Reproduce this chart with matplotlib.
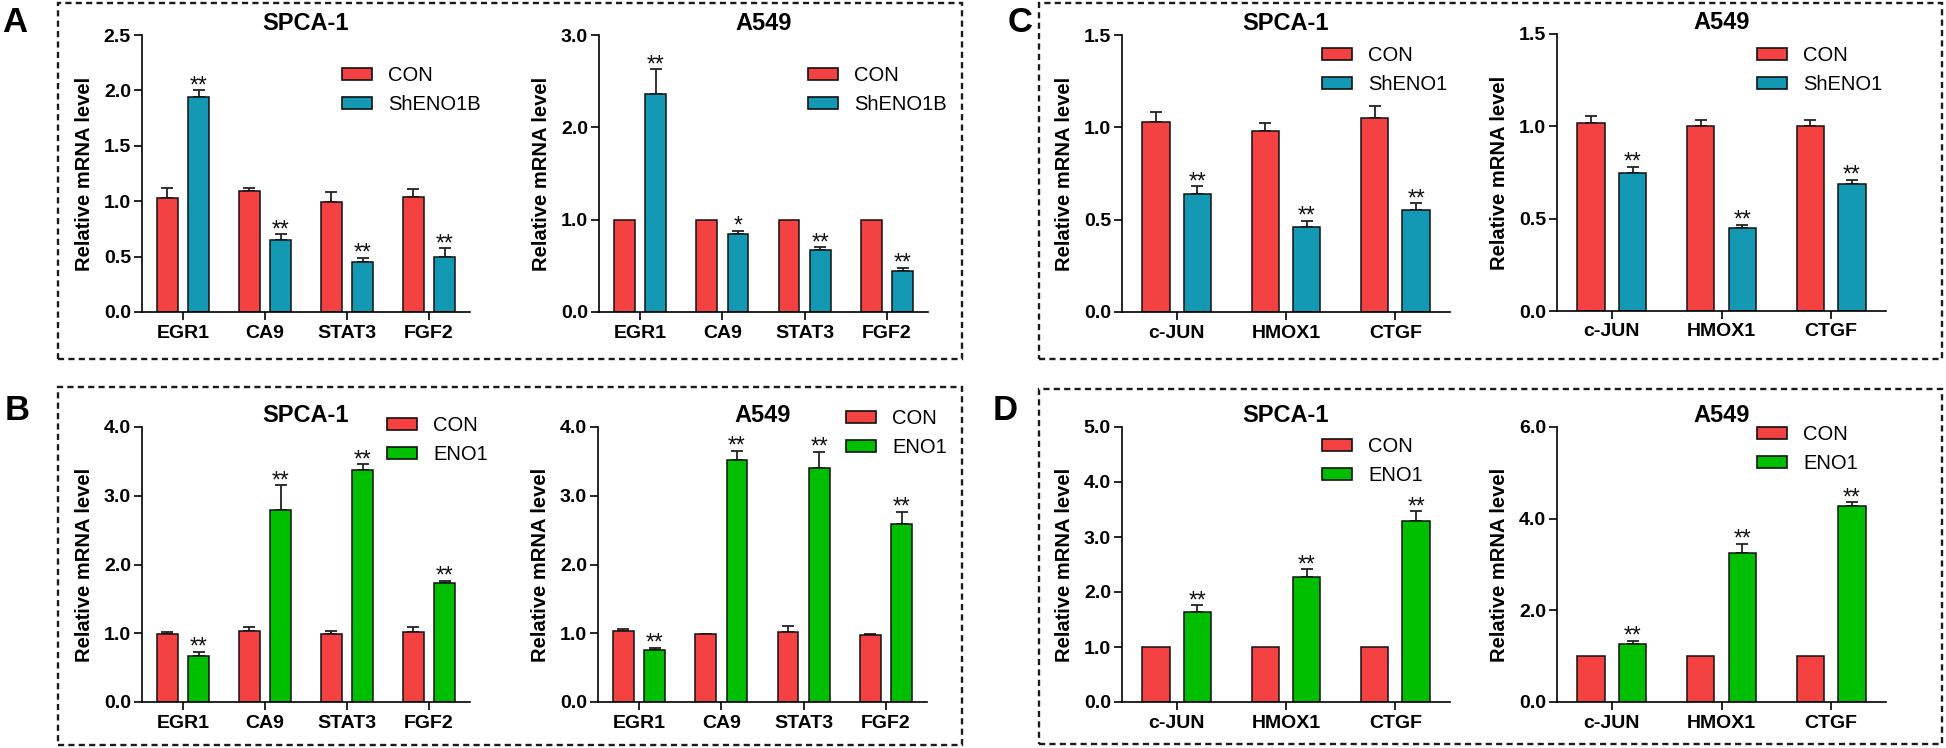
import numpy as np
import matplotlib
matplotlib.use("Agg")
import matplotlib.pyplot as plt
from matplotlib.patches import Patch, Rectangle
from matplotlib.ticker import MultipleLocator, FormatStrFormatter

plt.rcParams['font.family'] = ['Liberation Sans', 'DejaVu Sans']

W, H = 1946, 748

# ---------------- data ----------------
genes_ab = ['EGR1', 'CA9', 'STAT3', 'FGF2']
genes_cd = ['c-JUN', 'HMOX1', 'CTGF']

a1_con = [1.03, 1.09, 0.99, 1.04]
a1_con_err = [0.09, 0.03, 0.09, 0.07]
a1_sh = [1.94, 0.65, 0.45, 0.50]
a1_sh_err = [0.06, 0.05, 0.04, 0.075]
a1_stars = ['**', '**', '**', '**']

a2_con = [1.0, 1.0, 1.0, 1.0]
a2_con_err = [0.0, 0.0, 0.0, 0.0]
a2_sh = [2.36, 0.84, 0.67, 0.44]
a2_sh_err = [0.27, 0.04, 0.03, 0.04]
a2_stars = ['**', '*', '**', '**']

b1_con = [0.99, 1.04, 0.99, 1.02]
b1_con_err = [0.025, 0.045, 0.045, 0.075]
b1_eno = [0.67, 2.79, 3.38, 1.73]
b1_eno_err = [0.06, 0.36, 0.08, 0.035]
b1_stars = ['**', '**', '**', '**']

b2_con = [1.03, 0.99, 1.02, 0.98]
b2_con_err = [0.025, 0.005, 0.08, 0.008]
b2_eno = [0.76, 3.52, 3.40, 2.59]
b2_eno_err = [0.03, 0.135, 0.24, 0.18]
b2_stars = ['**', '**', '**', '**']

c1_con = [1.03, 0.98, 1.05]
c1_con_err = [0.054, 0.045, 0.063]
c1_sh = [0.64, 0.46, 0.55]
c1_sh_err = [0.04, 0.034, 0.04]
c1_stars = ['**', '**', '**']

c2_con = [1.02, 1.00, 1.00]
c2_con_err = [0.036, 0.035, 0.032]
c2_sh = [0.75, 0.45, 0.69]
c2_sh_err = [0.032, 0.018, 0.022]
c2_stars = ['**', '**', '**']

d1_con = [1.0, 1.0, 1.0]
d1_con_err = [0.0, 0.0, 0.0]
d1_eno = [1.64, 2.27, 3.30]
d1_eno_err = [0.12, 0.145, 0.165]
d1_stars = ['**', '**', '**']

d2_con = [1.0, 1.0, 1.0]
d2_con_err = [0.0, 0.0, 0.0]
d2_eno = [1.27, 3.25, 4.27]
d2_eno_err = [0.07, 0.20, 0.085]
d2_stars = ['**', '**', '**']

RED = '#F44141'
TEAL = '#1399B4'
GREEN = '#00BF00'

fig = plt.figure(figsize=(W / 100, H / 100), dpi=100)


def add_ax(x0, x1, yt, yb):
    return fig.add_axes([x0 / W, 1 - yb / H, (x1 - x0) / W, (yb - yt) / H])


def panel(rect, genes, con, con_err, trt, trt_err, stars, color, trt_label,
          title, ymax, ystep, leg_xy):
    ax = add_ax(*rect)
    x = np.arange(len(genes))
    off, w = 0.19, 0.25
    ax.bar(x - off, con, w, color=RED, edgecolor='#111111', linewidth=1.1, zorder=2)
    ax.bar(x + off, trt, w, color=color, edgecolor='#111111', linewidth=1.1, zorder=2)
    for xi, v, e in zip(x - off, con, con_err):
        if e > 0:
            ax.errorbar(xi, v, yerr=[[0], [e]], color='#222222', capsize=4.5,
                        elinewidth=1.3, capthick=1.3, zorder=1)
    for xi, v, e, s in zip(x + off, trt, trt_err, stars):
        if e > 0:
            ax.errorbar(xi, v, yerr=[[0], [e]], color='#222222', capsize=4.5,
                        elinewidth=1.3, capthick=1.3, zorder=1)
        ax.annotate(s, (xi, v + e), xytext=(0, -1.5), textcoords='offset points',
                    ha='center', va='baseline', fontsize=16.5, color='#111111')
    ax.set_xlim(-0.5, len(genes) - 0.5)
    ax.set_ylim(0, ymax)
    ax.yaxis.set_major_locator(MultipleLocator(ystep))
    ax.yaxis.set_major_formatter(FormatStrFormatter('%.1f'))
    ax.set_xticks(x)
    ax.set_xticklabels(genes, fontsize=14, fontweight='bold')
    for lab in ax.get_yticklabels():
        lab.set_fontweight('bold')
        lab.set_fontsize(14)
    ax.tick_params(axis='y', length=6, width=1.2, pad=2)
    ax.tick_params(axis='x', length=6, width=1.2, pad=3)
    for sp in ['top', 'right']:
        ax.spines[sp].set_visible(False)
    for sp in ['left', 'bottom']:
        ax.spines[sp].set_linewidth(1.2)
    ax.set_ylabel('Relative mRNA level', fontsize=14.5, fontweight='bold', labelpad=7)
    ax.set_title(title, fontsize=17, fontweight='bold', pad=2)
    handles = [Patch(facecolor=RED, edgecolor='#111111', linewidth=1.2),
               Patch(facecolor=color, edgecolor='#111111', linewidth=1.2)]
    lx, ly = leg_xy
    ax.legend(handles, ['CON', trt_label], loc='upper left',
              bbox_to_anchor=(lx / W, 1 - (ly - 11) / H),
              bbox_transform=fig.transFigure, frameon=False, borderpad=0,
              borderaxespad=0, handlelength=1.5, handleheight=0.5,
              handletextpad=0.8, labelspacing=0.5, prop={'size': 14.5})
    return ax


panel((142, 470, 35, 312), genes_ab, a1_con, a1_con_err, a1_sh, a1_sh_err, a1_stars,
      TEAL, 'ShENO1B', 'SPCA-1', 2.5, 0.5, (342, 77))
panel((599, 928, 35, 312), genes_ab, a2_con, a2_con_err, a2_sh, a2_sh_err, a2_stars,
      TEAL, 'ShENO1B', 'A549', 3.0, 1.0, (808, 77))
panel((142, 470, 427, 702), genes_ab, b1_con, b1_con_err, b1_eno, b1_eno_err, b1_stars,
      GREEN, 'ENO1', 'SPCA-1', 4.0, 1.0, (387, 427))
panel((598, 927, 427, 702), genes_ab, b2_con, b2_con_err, b2_eno, b2_eno_err, b2_stars,
      GREEN, 'ENO1', 'A549', 4.0, 1.0, (846, 420))
panel((1122, 1450, 35, 312), genes_cd, c1_con, c1_con_err, c1_sh, c1_sh_err, c1_stars,
      TEAL, 'ShENO1', 'SPCA-1', 1.5, 0.5, (1322, 57))
panel((1557, 1886, 34, 311), genes_cd, c2_con, c2_con_err, c2_sh, c2_sh_err, c2_stars,
      TEAL, 'ShENO1', 'A549', 1.5, 0.5, (1757, 57))
panel((1122, 1450, 427, 702), genes_cd, d1_con, d1_con_err, d1_eno, d1_eno_err, d1_stars,
      GREEN, 'ENO1', 'SPCA-1', 5.0, 1.0, (1322, 448))
panel((1557, 1886, 427, 702), genes_cd, d2_con, d2_con_err, d2_eno, d2_eno_err, d2_stars,
      GREEN, 'ENO1', 'A549', 6.0, 2.0, (1757, 436))

# dashed boxes
for (x0, y0, x1, y1) in [(58, 3, 962, 359), (58, 387, 962, 745),
                         (1039, 3, 1942, 359), (1039, 389, 1942, 744)]:
    fig.add_artist(Rectangle((x0 / W, 1 - y1 / H), (x1 - x0) / W, (y1 - y0) / H,
                             transform=fig.transFigure, fill=False,
                             edgecolor='#1a1a1a', linewidth=1.7,
                             linestyle=(0, (2.6, 1.8))))

# panel letters
for txt, x, y in [('A', 2, 32), ('B', 5, 420), ('C', 1008, 32), ('D', 993, 420)]:
    fig.text(x / W, 1 - y / H, txt, fontsize=25, fontweight='bold',
             ha='left', va='baseline')

fig.savefig('out.png', dpi=100)
